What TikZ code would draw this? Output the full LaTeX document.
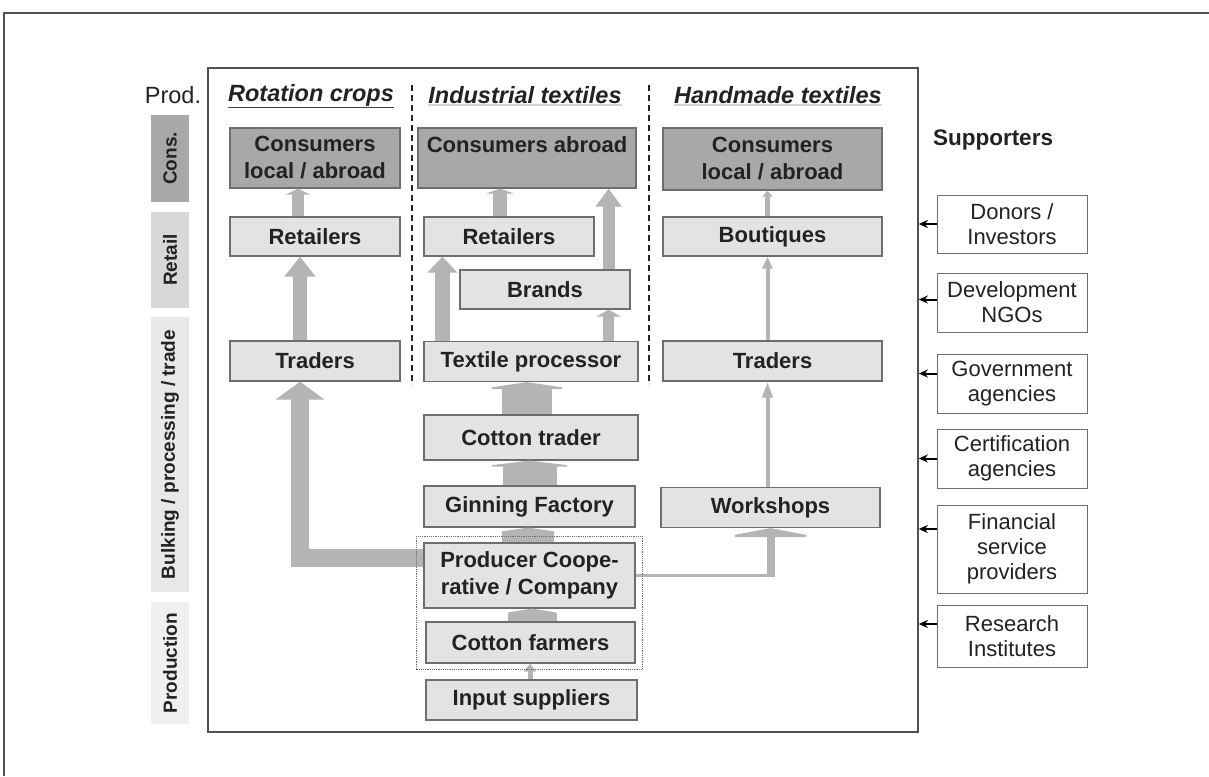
\documentclass[tikz,border=0pt]{standalone}
\usepackage{fontspec}
\setmainfont{Liberation Sans}
\usepackage{tikz}
\usetikzlibrary{positioning, arrows.meta, fit}
\definecolor{textColor}{RGB}{34, 34, 34}
\definecolor{frameColor}{RGB}{80, 80, 80}
\definecolor{edgeColor}{RGB}{110, 110, 110}
\definecolor{boxFill}{RGB}{227, 227, 228}
\definecolor{consFill}{RGB}{168, 168, 170}
\definecolor{flowColor}{RGB}{180, 180, 182}
\definecolor{retailFill}{RGB}{216, 216, 217}
\definecolor{bulkFill}{RGB}{232, 232, 233}
\definecolor{prodFill}{RGB}{240, 240, 241}
\newcommand{\boxfont}{\fontsize{22}{27}\selectfont\bfseries}
\newcommand{\suppfont}{\fontsize{22}{25}\selectfont}
\newcommand{\sidefont}{\fontsize{19}{22}\selectfont\bfseries}
\tikzset{
    chain_box/.style={
        draw=edgeColor,
        line width=1.2pt,
        fill=boxFill,
        text=textColor,
        font=\boxfont,
        align=center,
        inner sep=0pt
    },
    cons_box/.style={
        chain_box,
        fill=consFill
    },
    side_box/.style={
        rotate=90,
        fill=#1,
        text=textColor,
        font=\sidefont,
        minimum height=38pt,
        inner sep=0pt
    },
    supp_box/.style={
        draw=edgeColor,
        line width=1pt,
        fill=white,
        text=textColor,
        font=\suppfont,
        align=center,
        minimum width=150pt,
        inner sep=0pt
    },
    col_head/.style={
        text=textColor,
        font=\fontsize{23.5}{26}\selectfont\bfseries\itshape,
        inner sep=0pt
    },
    flow_arrow/.style n args={3}{
        draw=flowColor,
        line width=#1,
        -{Triangle[length=#2, width=#3]}
    },
    supp_edge/.style={
        -{Stealth[length=9pt, width=8pt]},
        line width=2pt,
        draw=black
    }
}

\begin{document}
\begin{tikzpicture}[x=1pt, y=-1pt]
    \useasboundingbox (0,0) rectangle (1209,776);
    \draw[line width=1.5pt, frameColor] (1209,13) -- (4,13) -- (4,776);

    \node[draw=frameColor, line width=1.6pt, minimum width=710pt, minimum height=664pt, inner sep=0pt] (mainbox) at (563,400) {};

    % stages on the left
    \node[text=textColor, font=\fontsize{23.5}{26}\selectfont] (prodhead) at (173,95) {Prod.};
    \node[side_box=consFill, minimum width=87pt] (sidecons) at (170,158.5) {Cons.};
    \node[side_box=retailFill, minimum width=96pt] (sideretail) at (170,260) {Retail};
    \node[side_box=bulkFill, minimum width=275pt] (sidebulk) at (170,454.5) {Bulking / processing / trade};
    \node[side_box=prodFill, minimum width=122pt] (sideprod) at (170,663) {Production};

    % column heads
    \node[col_head] (hrot) at (311,95) {Rotation crops};
    \node[col_head] (hind) at (525,95) {Industrial textiles};
    \node[col_head] (hhand) at (778,95) {Handmade textiles};
    \draw[textColor!85, line width=1pt] ([yshift=-1pt]hrot.south west) -- ([yshift=-1pt]hrot.south east);
    \draw[textColor!20, line width=1.5pt] ([yshift=-1pt]hind.south west) -- ([yshift=-1pt]hind.south east);
    \draw[textColor!20, line width=1.5pt] ([yshift=-1pt]hhand.south west) -- ([yshift=-1pt]hhand.south east);
    \draw[textColor, line width=1.2pt, dash pattern=on 6pt off 4pt] (412,85) -- (412,385);
    \draw[textColor, line width=1.2pt, dash pattern=on 6pt off 4pt] (649,85) -- (649,385);

    % rotation crops
    \node[cons_box, minimum width=170pt, minimum height=60pt] (rcons) at (315,158) {Consumers\\local / abroad};
    \node[chain_box, minimum width=170pt, minimum height=39pt] (rret) at (315,236.5) {Retailers};
    \node[chain_box, minimum width=170pt, minimum height=40pt] (rtrad) at (315,361) {Traders};

    % industrial textiles
    \node[cons_box, minimum width=218pt, minimum height=60pt] (icons) at (527,158) {Consumers abroad\\\phantom{local / abroad}};
    \node[chain_box, minimum width=170pt, minimum height=39pt] (iret) at (509,236.5) {Retailers};
    \node[chain_box, minimum width=170pt, minimum height=39pt] (brands) at (545,289.5) {Brands};
    \node[chain_box, minimum width=214pt, minimum height=40pt] (textile) at (531,361.5) {Textile processor};
    \node[chain_box, minimum width=214pt, minimum height=45pt] (ctrader) at (531,437.5) {Cotton trader};
    \node[chain_box, minimum width=211pt, minimum height=41pt] (ginning) at (529.5,506.5) {Ginning Factory};
    \node[chain_box, minimum width=211pt, minimum height=65pt] (prodcoop) at (529.5,575.5) {Producer Coope-\\rative / Company};
    \node[chain_box, minimum width=209pt, minimum height=41pt] (farmers) at (530.5,642.5) {Cotton farmers};
    \node[chain_box, minimum width=211pt, minimum height=40pt] (input) at (531.5,700) {Input suppliers};

    % handmade textiles
    \node[cons_box, minimum width=219pt, minimum height=62pt] (hcons) at (772.5,159) {Consumers\\local / abroad};
    \node[chain_box, minimum width=219pt, minimum height=39pt] (bout) at (772.5,236.5) {Boutiques};
    \node[chain_box, minimum width=219pt, minimum height=40pt] (htrad) at (772.5,361) {Traders};
    \node[chain_box, minimum width=219pt, minimum height=40pt] (work) at (770.5,507.5) {Workshops};

    % supporters
    \node[text=textColor, font=\fontsize{22.5}{26}\selectfont\bfseries] (supphead) at (993,140) {Supporters};
    \node[supp_box, minimum height=58pt] (donors) at (1012,224) {Donors /\\Investors};
    \node[supp_box, minimum height=59pt] (devngo) at (1012,302.5) {Development\\NGOs};
    \node[supp_box, minimum height=59pt] (govt) at (1012,383.5) {Government\\agencies};
    \node[supp_box, minimum height=59pt] (certif) at (1012,458.5) {Certification\\agencies};
    \node[supp_box, minimum height=88pt] (finance) at (1012,549) {Financial\\service\\providers};
    \node[supp_box, minimum height=62pt] (research) at (1012,636) {Research\\Institutes};
    \foreach \s/\dy in {donors/0, devngo/3, govt/10, certif/0, finance/20, research/12}
        \draw[supp_edge] ([yshift=\dy pt]\s.west) -- ([yshift=\dy pt]\s.west -| mainbox.east);

    % flows: rotation crops
    \draw[flow_arrow={12pt}{6pt}{24pt}] ([xshift=-17pt]rret.north) -- ([xshift=-17pt]rcons.south);
    \draw[flow_arrow={14pt}{20pt}{30pt}] ([xshift=-15pt]rtrad.north) -- ([xshift=-15pt]rret.south);
    \draw[flow_arrow={18pt}{18pt}{48pt}] ([yshift=18pt]prodcoop.west) -| ([xshift=-15pt]rtrad.south);

    % flows: industrial textiles
    \draw[flow_arrow={14pt}{5pt}{28pt}] ([xshift=-9pt]iret.north) -- ([xshift=-9pt]iret.north |- icons.south);
    \draw[flow_arrow={15pt}{16pt}{29pt}] ([xshift=19pt]textile.north west) -- ([xshift=19pt]textile.north west |- iret.south);
    \draw[flow_arrow={11pt}{7pt}{24pt}] ([xshift=-22pt]brands.south east |- textile.north) -- ([xshift=-22pt]brands.south east);
    \draw[flow_arrow={12pt}{18pt}{25pt}] ([xshift=-22pt]brands.north east) -- ([xshift=-22pt]brands.north east |- icons.south);
    \draw[flow_arrow={50pt}{7pt}{94pt}] ([xshift=-4pt]ctrader.north) -- ([xshift=-4pt]textile.south);
    \draw[flow_arrow={54pt}{6pt}{100pt}] (ginning.north) -- (ginning.north |- ctrader.south);
    \draw[flow_arrow={52pt}{5pt}{70pt}] ([xshift=-1.5pt]prodcoop.north) -- ([xshift=-1.5pt]ginning.south);
    \draw[flow_arrow={49pt}{5pt}{62pt}] ([xshift=1.5pt]farmers.north) -- ([xshift=1.5pt]farmers.north |- prodcoop.south);
    \draw[flow_arrow={5pt}{8pt}{12pt}] ([xshift=-1.5pt]input.north) -- ([xshift=-1.5pt]input.north |- farmers.south);

    % flows: handmade textiles
    \draw[flow_arrow={5pt}{6pt}{10pt}] ([xshift=-5pt]bout.north) -- ([xshift=-5pt]hcons.south);
    \draw[flow_arrow={4pt}{12pt}{10pt}] ([xshift=-5pt]htrad.north) -- ([xshift=-5pt]bout.south);
    \draw[flow_arrow={4pt}{16pt}{10pt}] ([xshift=-3pt]work.north) -- ([xshift=-3pt]work.north |- htrad.south);
    \coordinate (wbend) at (prodcoop.east -| work.south);
    \draw[draw=flowColor, line width=3pt] (prodcoop.east) -- ([xshift=4pt]wbend);
    \draw[flow_arrow={8pt}{9pt}{95pt}] ([yshift=-1.5pt]wbend) -- (work.south);

    \node[draw=edgeColor, densely dotted, line width=1.2pt, fit=(prodcoop)(farmers), inner xsep=7pt, inner ysep=6pt] (coopgroup) {};
\end{tikzpicture}
\end{document}
